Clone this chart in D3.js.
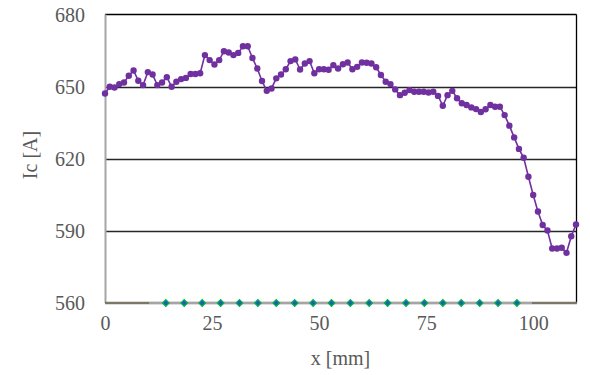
<!doctype html>
<html lang="en">
<head>
<meta charset="utf-8">
<title>Ic vs x</title>
<style>
  body { margin: 0; background: #fff; }
  svg text { font-family: "Liberation Serif", "Times New Roman", serif !important; fill: #595959; }
</style>
</head>
<body>
<script src="https://d3js.org/d3.v7.min.js"></script>
<script>
// positions along the tape [mm]
var xPos = [
  0, 1.11, 2.22, 3.33, 4.44, 5.56, 6.67, 7.78, 8.89,
  10, 11.11, 12.22, 13.33, 14.44, 15.56, 16.67, 17.78, 18.89,
  20, 21.11, 22.22, 23.33, 24.44, 25.56, 26.67, 27.78, 28.89,
  30, 31.11, 32.22, 33.33, 34.44, 35.56, 36.67, 37.78, 38.89,
  40, 41.11, 42.22, 43.33, 44.44, 45.56, 46.67, 47.78, 48.89,
  50, 51.11, 52.22, 53.33, 54.44, 55.56, 56.67, 57.78, 58.89,
  60, 61.11, 62.22, 63.33, 64.44, 65.56, 66.67, 67.78, 68.89,
  70, 71.11, 72.22, 73.33, 74.44, 75.56, 76.67, 77.78, 78.89,
  80, 81.11, 82.22, 83.33, 84.44, 85.56, 86.67, 87.78, 88.89,
  90, 91.11, 92.22, 93.33, 94.44, 95.56, 96.67, 97.78, 98.89,
  100, 101.11, 102.22, 103.33, 104.44, 105.56, 106.67, 107.78, 108.89,
  110
];
// critical current [A]
var icValues = [
  647.3, 650.1, 649.8, 651.2, 651.9, 654.7, 656.9, 652.6, 650.8,
  656.2, 655.2, 650.8, 651.9, 654.1, 650.1, 652.2, 653.3, 653.8,
  655.4, 655.4, 655.7, 663.3, 661.2, 659.4, 661.2, 664.9, 664.4,
  663.3, 664.2, 667.0, 667.0, 662.1, 657.7, 652.5, 648.4, 649.4,
  653.6, 655.2, 657.4, 660.8, 661.5, 657.3, 659.8, 660.8, 655.7,
  657.4, 657.4, 657.2, 659.1, 657.7, 659.5, 660.2, 657.4, 658.4,
  660.2, 660.1, 659.8, 658.2, 655.0, 652.2, 651.2, 649.0, 646.6,
  647.6, 648.7, 648.0, 648.0, 648.0, 647.7, 648.0, 646.3, 642.2,
  646.6, 648.4, 645.3, 643.2, 642.5, 641.5, 640.8, 639.6, 640.7,
  642.5, 641.8, 641.8, 638.3, 633.9, 629.0, 624.2, 620.5, 612.6,
  605.0, 598.1, 592.5, 590.2, 582.7, 582.7, 583.0, 580.9, 587.8,
  592.7
];
// second series sitting on the bottom of the axis
var baseLineX = [10.3, 99.7];
var diamondX = [14.2, 18.5, 22.7, 27.0, 31.4, 35.7, 40.0, 44.3, 48.6, 52.9,
                57.3, 61.7, 66.0, 70.3, 74.6, 78.9, 83.2, 87.5, 91.8, 96.2];
var diamondY = 560;

var xTicks = [0, 25, 50, 75, 100];
var yTicks = [560, 590, 620, 650, 680];

var margin = {top: 15, right: 14, bottom: 72, left: 105},
    width = 590 - margin.left - margin.right,
    height = 375 - margin.top - margin.bottom;

var x = d3.scaleLinear().domain([0, 110]).range([0, width]);
var y = d3.scaleLinear().domain([560, 680]).range([height, 0]);

var svg = d3.select("body").append("svg")
    .attr("width", 590)
    .attr("height", 375)
  .append("g")
    .attr("transform", "translate(" + margin.left + "," + margin.top + ")");

// gridlines
svg.selectAll(".grid")
    .data(yTicks.filter(function(d) { return d > 560 && d < 680; }))
    .enter().append("line")
    .attr("x1", 0).attr("x2", width)
    .attr("y1", function(d) { return Math.round(y(d)) + 0.5; })
    .attr("y2", function(d) { return Math.round(y(d)) + 0.5; })
    .attr("stroke", "#262626").attr("stroke-width", 1.4);

// frame
svg.append("line").attr("x1", 0).attr("x2", width + 0.5).attr("y1", -0.5).attr("y2", -0.5)
    .attr("stroke", "#000").attr("stroke-width", 1.3);
svg.append("line").attr("x1", width + 0.5).attr("x2", width + 0.5).attr("y1", -0.5).attr("y2", height)
    .attr("stroke", "#000").attr("stroke-width", 1.3);
svg.append("line").attr("x1", 0.5).attr("x2", 0.5).attr("y1", -0.5).attr("y2", height)
    .attr("stroke", "#a6a6a6").attr("stroke-width", 2);
svg.append("line").attr("x1", 0).attr("x2", width + 1).attr("y1", height).attr("y2", height)
    .attr("stroke", "#7b7768").attr("stroke-width", 2.6);

function styleTicks(g) {
    g.select(".domain").remove();
    g.attr("font-family", null).attr("font-size", null);
    g.selectAll("text")
        .style("font-family", "'Liberation Serif', serif")
        .style("font-size", "20px")
        .style("fill", "#595959");
}

// tick labels
svg.append("g")
    .call(d3.axisLeft(y).tickValues(yTicks).tickSize(0).tickPadding(20))
    .call(styleTicks);

svg.append("g")
    .attr("transform", "translate(0," + height + ")")
    .call(d3.axisBottom(x).tickValues(xTicks).tickSize(0).tickPadding(13))
    .call(styleTicks);

// axis titles
svg.append("text")
    .attr("x", width / 2).attr("y", height + 62)
    .attr("text-anchor", "middle").style("font-size", "20px")
    .text("x [mm]");
svg.append("text")
    .attr("transform", "translate(-68," + (height / 2 - 4) + ") rotate(-90)")
    .attr("text-anchor", "middle").style("font-size", "20px")
    .text("Ic [A]");

// grey base series with diamonds
svg.append("line")
    .attr("x1", x(baseLineX[0])).attr("x2", x(baseLineX[1]))
    .attr("y1", y(diamondY)).attr("y2", y(diamondY))
    .attr("stroke", "#a5a5a5").attr("stroke-width", 2.2);
svg.selectAll(".dia")
    .data(diamondX)
    .enter().append("path")
    .attr("d", d3.symbol(d3.symbolSquare, 22)())
    .attr("transform", function(d) { return "translate(" + x(d) + "," + y(diamondY) + ") rotate(45)"; })
    .attr("fill", "#1f5fb0").attr("stroke", "#00b050").attr("stroke-width", 1.2);

// Ic line
var pts = xPos.map(function(d, i) { return [d, icValues[i]]; });
var line = d3.line()
    .x(function(d) { return x(d[0]); })
    .y(function(d) { return y(d[1]); });
svg.append("path")
    .datum(pts)
    .attr("d", line)
    .attr("fill", "none")
    .attr("stroke", "#7030a0")
    .attr("stroke-width", 1.6);
svg.selectAll(".pt")
    .data(pts)
    .enter().append("circle")
    .attr("cx", function(d) { return x(d[0]); })
    .attr("cy", function(d) { return y(d[1]); })
    .attr("r", 3.2)
    .attr("fill", "#7030a0");
</script>
</body>
</html>
